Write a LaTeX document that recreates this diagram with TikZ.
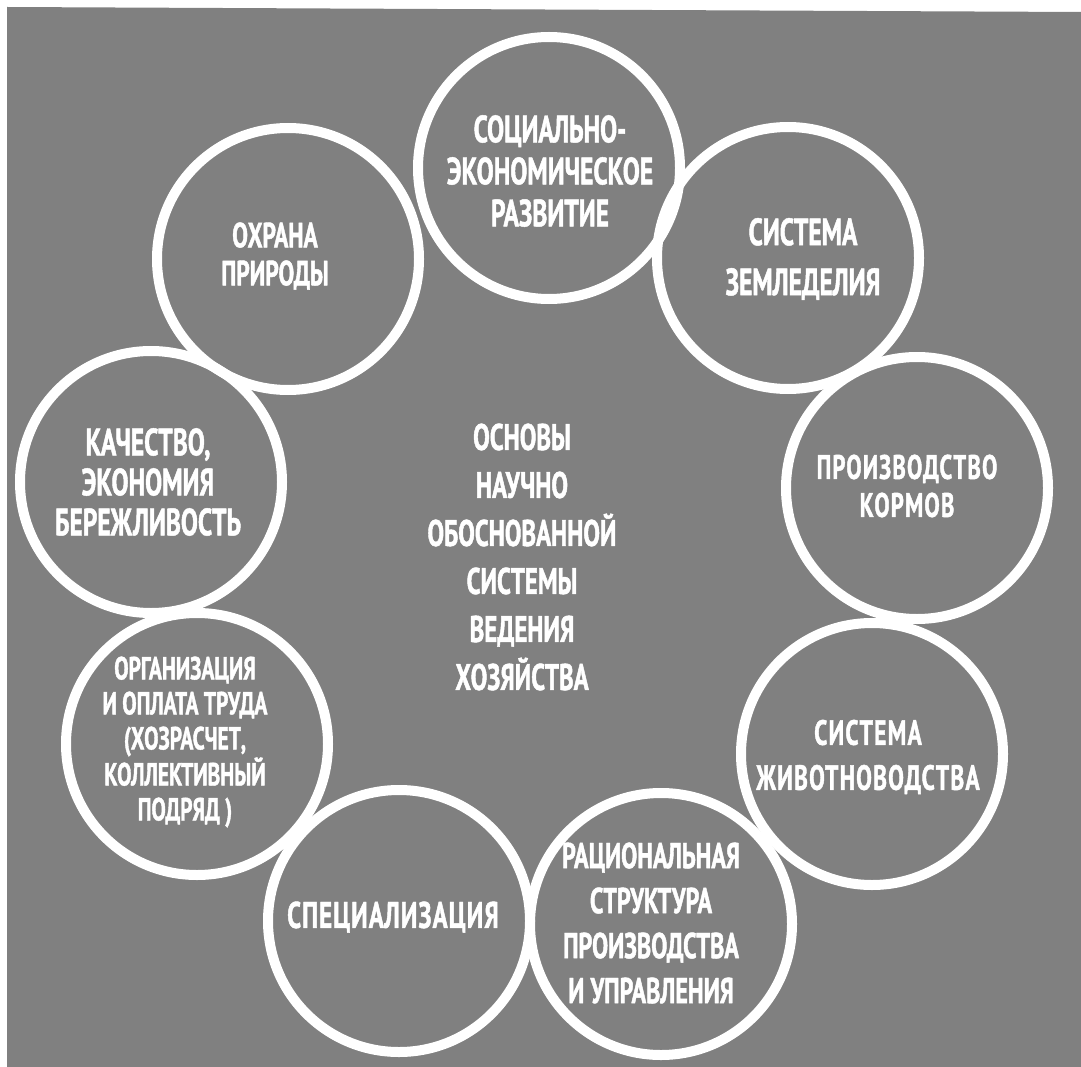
\documentclass[tikz,border=0pt]{standalone}
\usepackage{fontspec}
\newfontfamily\labfont[FakeStretch=0.67,FakeBold=1.2]{PT Sans Bold}
\definecolor{bggray}{RGB}{128,128,128}
\tikzset{
  ring/.style={circle, draw=white, line width=10pt, minimum size=262pt, inner sep=0pt},
  lab/.style={text=white, align=center, inner sep=0pt, font=\labfont\fontsize{38}{42}\selectfont}
}
\begin{document}
\begin{tikzpicture}[x=1pt, y=-1pt]
\useasboundingbox (0,0) rectangle (1081,1067);
\fill[white] (0,0) rectangle (1081,1067);
\fill[bggray] (7,7) -- (1081,12) -- (1081,1067) -- (7,1067) -- cycle;
% circles
\node[ring] (c1) at (549,168) {};
\node[ring] (c2) at (788,258) {};
\node[ring] (c3) at (917,488) {};
\node[ring] (c4) at (872,754) {};
\node[ring] (c5) at (661,924) {};
\node[ring] (c6) at (399,921) {};
\node[ring] (c7) at (197,744) {};
\node[ring] (c8) at (151,482) {};
\node[ring] (c9) at (288,259) {};
% labels
\node[lab] (t1) at (550,171) {СОЦИАЛЬНО-\\ЭКОНОМИЧЕСКОЕ\\РАЗВИТИЕ};
\node[lab, font=\labfont\fontsize{38}{50}\selectfont] (t2) at (803,259) {СИСТЕМА\\ЗЕМЛЕДЕЛИЯ};
\node[lab, font=\labfont\fontsize{34}{38}\selectfont\addfontfeature{LetterSpace=3.5}] (t3) at (907,486) {ПРОИЗВОДСТВО\\КОРМОВ};
\node[lab, font=\labfont\fontsize{35}{45}\selectfont\addfontfeature{LetterSpace=3.5}] (t4) at (868,757) {СИСТЕМА\\ЖИВОТНОВОДСТВА};
\node[lab, font=\labfont\fontsize{36}{45}\selectfont] (t5) at (651,923) {РАЦИОНАЛЬНАЯ\\СТРУКТУРА\\ПРОИЗВОДСТВА\\И УПРАВЛЕНИЯ};
\node[lab, font=\labfont\fontsize{37}{42}\selectfont\addfontfeature{LetterSpace=3}] (t6) at (393,917) {СПЕЦИАЛИЗАЦИЯ};
\node[lab, font=\labfont\fontsize{32}{35}\selectfont] (t7) at (185,742) {ОРГАНИЗАЦИЯ\\И ОПЛАТА ТРУДА\\(ХОЗРАСЧЕТ,\\КОЛЛЕКТИВНЫЙ\\ПОДРЯД )};
\node[lab, font=\labfont\fontsize{38}{40}\selectfont] (t8) at (148,482) {КАЧЕСТВО,\\ЭКОНОМИЯ\\БЕРЕЖЛИВОСТЬ};
\node[lab, font=\labfont\fontsize{35}{38}\selectfont] (t9) at (275,256) {ОХРАНА\\ПРИРОДЫ};
\node[lab, font=\labfont\fontsize{37}{48}\selectfont] (t0) at (522,557) {ОСНОВЫ\\НАУЧНО\\ОБОСНОВАННОЙ\\СИСТЕМЫ\\ВЕДЕНИЯ\\ХОЗЯЙСТВА};
\end{tikzpicture}
\end{document}
